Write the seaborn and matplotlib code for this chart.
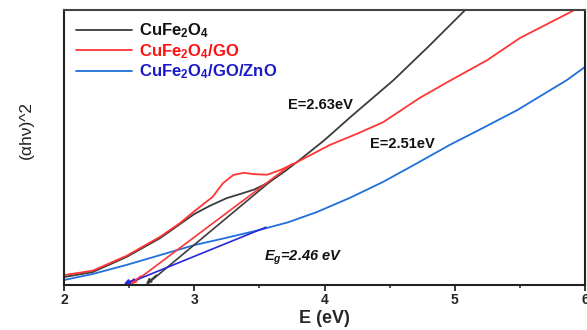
import numpy as np
import pandas as pd
import matplotlib
matplotlib.use("Agg")
import matplotlib.pyplot as plt
import seaborn as sns

# ── data (E in eV, (ahv)^2 in arbitrary units) ──
e_cufe = [2.0, 2.22, 2.48, 2.74, 3.0, 3.12, 3.25, 3.36, 3.46, 3.58, 3.70, 3.81,
          4.0, 4.2, 4.53, 4.8, 5.08, 5.2]
y_cufe = [0.029, 0.047, 0.102, 0.171, 0.258, 0.288, 0.316, 0.332, 0.347, 0.375,
          0.415, 0.455, 0.527, 0.611, 0.745, 0.868, 1.0, 1.06]

e_go = [2.0, 2.22, 2.48, 2.74, 2.89, 3.0, 3.14, 3.22, 3.30, 3.38, 3.46, 3.56,
        3.66, 3.79, 4.04, 4.25, 4.45, 4.73, 4.96, 5.25, 5.50, 5.92, 6.0]
y_go = [0.036, 0.052, 0.106, 0.176, 0.225, 0.268, 0.32, 0.37, 0.40, 0.408,
        0.403, 0.401, 0.418, 0.447, 0.509, 0.55, 0.592, 0.68, 0.742, 0.818,
        0.898, 1.0, 1.02]

e_zno = [2.0, 2.22, 2.48, 2.74, 3.0, 3.25, 3.5, 3.72, 3.94, 4.2, 4.45, 4.7,
         4.96, 5.22, 5.48, 5.86, 6.0]
y_zno = [0.018, 0.04, 0.073, 0.109, 0.145, 0.172, 0.2, 0.228, 0.265, 0.318,
         0.375, 0.44, 0.509, 0.572, 0.636, 0.745, 0.793]

labels = ["CuFe$_2$O$_4$", "CuFe$_2$O$_4$/GO", "CuFe$_2$O$_4$/GO/ZnO"]
line_colors = ["#3c3c3c", "#ff3535", "#1f6fdc"]
text_colors = ["#111111", "#ff1010", "#1a1ac8"]

# tangent lines (start at band-gap intercept, end where they join curve)
tan_e0 = [2.63, 2.51, 2.46]
tan_e1 = [3.58, 3.75, 3.55]
tan_y1 = [0.375, 0.44, 0.21]
tan_colors = ["#3c3c3c", "#ff3535", "#2828d8"]

gap_text = ["E=2.63eV", "E=2.51eV", "$E_g$=2.46 eV"]
gap_pos_e = [3.97, 4.60, 3.84]
gap_pos_y = [0.655, 0.513, 0.098]

# ── style ──
sns.set_style("ticks")
plt.rcParams["font.family"] = ["Liberation Sans", "DejaVu Sans"]
plt.rcParams["mathtext.fontset"] = "custom"
plt.rcParams["mathtext.rm"] = "Liberation Sans:bold"
plt.rcParams["mathtext.it"] = "Liberation Sans:bold:italic"
plt.rcParams["mathtext.bf"] = "Liberation Sans:bold"

df = pd.concat([
    pd.DataFrame({"E": e_cufe, "A": y_cufe, "sample": labels[0]}),
    pd.DataFrame({"E": e_go, "A": y_go, "sample": labels[1]}),
    pd.DataFrame({"E": e_zno, "A": y_zno, "sample": labels[2]}),
])

fig = plt.figure(figsize=(5.87, 3.30), dpi=100)
ax = fig.add_axes([64 / 587, 45 / 330, 521 / 587, 275 / 330])

sns.lineplot(data=df, x="E", y="A", hue="sample", hue_order=labels,
             palette=line_colors, linewidth=1.3, ax=ax, legend=False)

# tangents + little arrow heads at the intercepts
for e0, e1, y1, c in zip(tan_e0, tan_e1, tan_y1, tan_colors):
    ax.plot([e0, e1], [0, y1], color=c, lw=1.2)
    ax.annotate("", xy=(e0, 0.004), xytext=(e0 + 0.08, 0.004 + 0.08 * y1 / (e1 - e0)),
                arrowprops=dict(arrowstyle="-|>", color=c, lw=1.2,
                                mutation_scale=7, shrinkA=0, shrinkB=0))

for t, ex, ey in zip(gap_text, gap_pos_e, gap_pos_y):
    ax.text(ex, ey, t, fontsize=10.5, fontweight="bold", color="#111111",
            ha="center", va="center",
            style="italic" if t.startswith("$") else "normal")

# legend
handles = [plt.Line2D([], [], color=c, lw=1.3) for c in line_colors]
leg = ax.legend(handles, labels, loc="upper left", bbox_to_anchor=(0.0, 1.0),
                frameon=False, fontsize=12, handlelength=3.4, handletextpad=0.4,
                labelspacing=0.1, borderaxespad=0.3)
for txt, c in zip(leg.get_texts(), text_colors):
    txt.set_color(c)
    txt.set_fontweight("bold")

ax.set_xlim(2, 6)
ax.set_ylim(0, 1)
ax.set_xticks([2, 3, 4, 5, 6])
ax.set_xticks([2.5, 3.5, 4.5, 5.5], minor=True)
ax.set_yticks([])
ax.tick_params(axis="x", which="major", direction="out", length=4, width=1.3,
               labelsize=10, pad=2)
ax.tick_params(axis="x", which="minor", direction="out", length=2.5, width=1.1)
for lbl in ax.get_xticklabels():
    lbl.set_fontweight("bold")

ax.set_xlabel("E (eV)", fontsize=13, fontweight="bold", labelpad=2)
ax.set_ylabel("(αhν)^2", fontsize=12.5, color="#222222")
ax.yaxis.set_label_coords(-0.058, 0.565)

for side in ["left", "bottom", "top", "right"]:
    ax.spines[side].set_visible(True)
    ax.spines[side].set_linewidth(1.5)
    ax.spines[side].set_color("#222222")
ax.spines["top"].set_color("#444444")

fig.savefig("out.png", dpi=100)
